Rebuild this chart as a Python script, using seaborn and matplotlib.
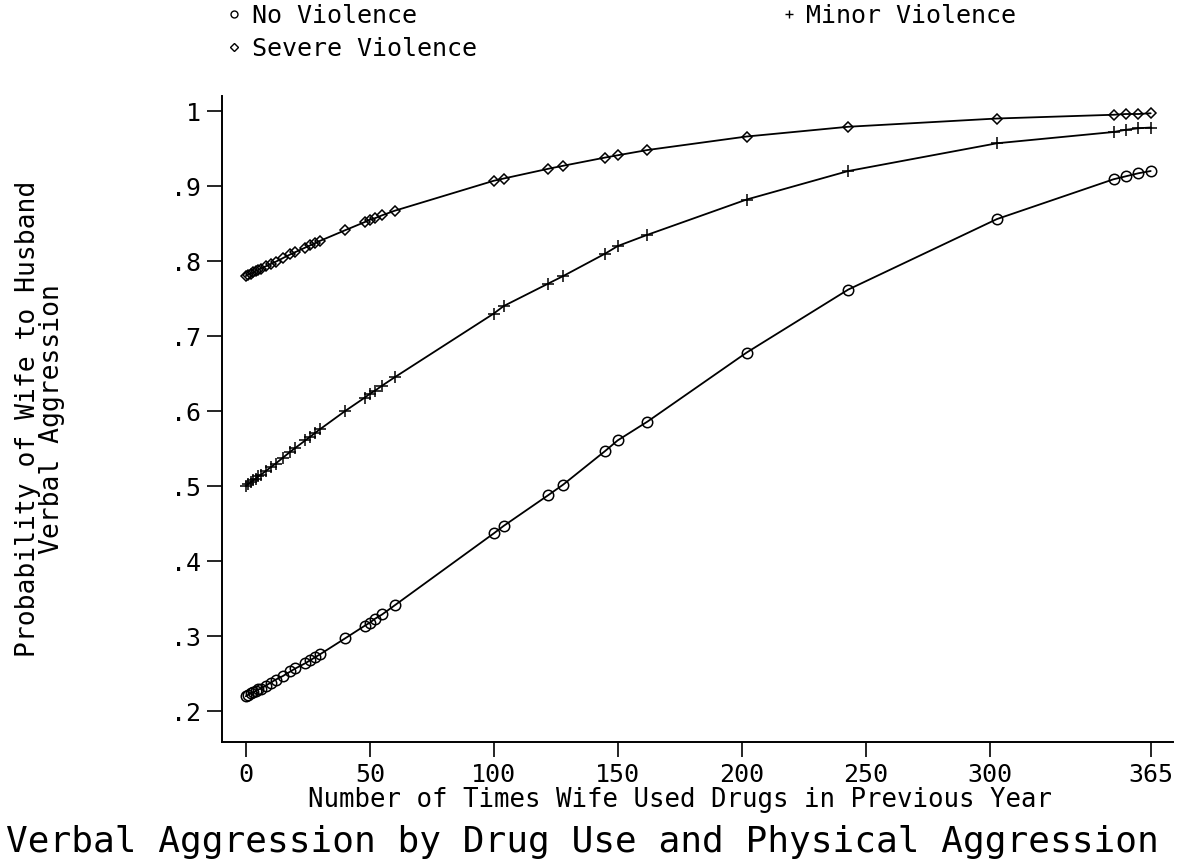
import numpy as np
import pandas as pd
import seaborn as sns
import matplotlib.pyplot as plt
from matplotlib.lines import Line2D

# observed numbers of drug uses (same for the three curves)
drug_uses = [0, 1, 2, 3, 4, 5, 6, 8, 10, 12, 15, 18, 20, 24, 26, 28, 30, 40, 48, 50, 52, 55, 60,
             100, 104, 122, 128, 145, 150, 162, 202, 243, 303, 350, 355, 360, 365]

no_violence = [.220, .222, .224, .225, .227, .229, .230, .234, .238, .242, .247, .253, .257,
               .264, .268, .272, .276, .297, .314, .318, .323, .329, .341,
               .437, .447, .488, .502, .547, .561, .586, .678, .762, .856, .909, .913, .917, .920]
minor_violence = [.500, .503, .505, .508, .510, .513, .515, .520, .525, .530, .538, .546, .551,
                  .561, .566, .571, .576, .600, .618, .623, .627, .634, .645,
                  .730, .740, .770, .780, .810, .820, .835, .882, .920, .957, .972, .975, .977, .978]
severe_violence = [.780, .782, .783, .785, .787, .788, .790, .793, .796, .799, .804, .809, .812,
                   .818, .821, .824, .827, .841, .852, .855, .857, .861, .867,
                   .907, .910, .923, .927, .938, .941, .948, .966, .979, .990, .995, .996, .996, .997]

groups = ['No Violence', 'Minor Violence', 'Severe Violence']
x_ticks = [0, 50, 100, 150, 200, 250, 300, 365]
y_ticks = [.2, .3, .4, .5, .6, .7, .8, .9, 1]
y_tick_labels = ['.2', '.3', '.4', '.5', '.6', '.7', '.8', '.9', '1']

df = pd.DataFrame({
    'uses': drug_uses * 3,
    'prob': no_violence + minor_violence + severe_violence,
    'group': np.repeat(groups, len(drug_uses)),
})

sns.set_style('white')
plt.rcParams['font.family'] = ['DejaVu Sans Mono']
plt.rcParams['text.color'] = 'black'
plt.rcParams['axes.labelcolor'] = 'black'
plt.rcParams['xtick.color'] = 'black'
plt.rcParams['ytick.color'] = 'black'

fig = plt.figure(figsize=(11.79, 8.68), dpi=100)
ax = fig.add_axes([222 / 1179, 1 - 742 / 868, 951 / 1179, 646 / 868])

marker_style = {'No Violence': ('o', 7.5), 'Minor Violence': ('+', 8), 'Severe Violence': ('D', 5)}
for g in groups:
    m, ms = marker_style[g]
    sns.lineplot(data=df[df['group'] == g], x='uses', y='prob', ax=ax, color='black',
                 marker=m, markersize=ms, mfc='none', mec='black', mew=1.1,
                 linewidth=1.3, sort=False, legend=False)

ax.set_xlim(-9.6, 374)
ax.set_ylim(0.159, 1.02)
ax.set_xticks(x_ticks)
ax.set_xticklabels([str(t) for t in x_ticks])
ax.set_yticks(y_ticks)
ax.set_yticklabels(y_tick_labels)
ax.tick_params(direction='out', length=11, width=1.2, color='black', labelsize=18, pad=4,
               bottom=True, left=True)
sns.despine(ax=ax)
for s in ['left', 'bottom']:
    ax.spines[s].set_linewidth(1.4)
    ax.spines[s].set_color('black')

ax.set_xlabel('Number of Times Wife Used Drugs in Previous Year', fontsize=18.5)
ax.xaxis.set_label_coords(0.482, -0.07)
ax.xaxis.label.set_va('top')
ax.set_ylabel('Probability of Wife to Husband\nVerbal Aggression', fontsize=19,
              multialignment='center', linespacing=0.9)
ax.yaxis.set_label_coords(-0.165, 0.5)

fig.text(0.494, 0.03, 'Verbal Aggression by Drug Use and Physical Aggression',
         ha='center', va='center', fontsize=26)

handles = [Line2D([], [], ls='none', marker='o', ms=5, mfc='none', mec='black', mew=1),
           Line2D([], [], ls='none', marker='D', ms=4, mfc='none', mec='black', mew=1),
           Line2D([], [], ls='none', marker='+', ms=6, mec='black', mew=1)]
fig.legend(handles=handles, labels=['No Violence', 'Severe Violence', 'Minor Violence'],
           loc='upper left', bbox_to_anchor=(224 / 1179, 0.998), ncol=2, frameon=False,
           fontsize=18, handlelength=0.6, handletextpad=0.4, columnspacing=12.2,
           labelspacing=0.35, borderpad=0.1, borderaxespad=0)

fig.savefig('out.png', dpi=100)
